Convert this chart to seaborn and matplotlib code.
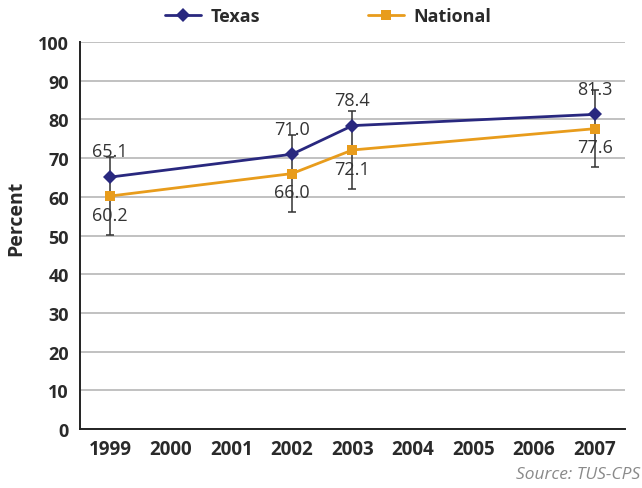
import matplotlib
matplotlib.use("Agg")
import matplotlib.pyplot as plt
import seaborn as sns
import pandas as pd
import numpy as np
from matplotlib.lines import Line2D

years = ["1999", "2000", "2001", "2002", "2003", "2004", "2005", "2006", "2007"]
data_years = ["1999", "2002", "2003", "2007"]
texas = [65.1, 71.0, 78.4, 81.3]
national = [60.2, 66.0, 72.1, 77.6]
national_err = [10, 10, 10, 10]

c_tx = "#29287f"
c_nat = "#e89c1c"
c_txt = "#2a2a2a"

sns.set_theme(style="white")
plt.rcParams['font.family'] = ['Open Sans', 'DejaVu Sans']

pos = [years.index(y) for y in data_years]
df = pd.DataFrame({
    "pos": pos * 2,
    "value": texas + national,
    "series": ["Texas"] * 4 + ["National"] * 4,
})

fig = plt.figure(figsize=(6.42, 4.89), dpi=100)
ax = fig.add_axes([0.1246, 0.1207, 0.9735 - 0.1246, 0.912 - 0.1207])

ax.yaxis.grid(True, color="#b0b0b0", linewidth=1.1)
ax.set_axisbelow(True)

ax.errorbar(pos, national, yerr=national_err, fmt="none", ecolor="#333333",
            elinewidth=1.1, capsize=2.6, capthick=1.1, zorder=2)

sns.lineplot(data=df, x="pos", y="value", hue="series", style="series",
             palette={"Texas": c_tx, "National": c_nat},
             markers={"Texas": "D", "National": "s"}, dashes=False,
             linewidth=2, markersize=7.5, markeredgewidth=0, ax=ax,
             legend=False, zorder=3)

for p, v in zip(pos, texas):
    ax.annotate(f"{v:.1f}", (p, v), xytext=(0, 12), textcoords="offset points",
                ha="center", va="bottom", fontsize=13, color="#333333")
for p, v in zip(pos, national):
    ax.annotate(f"{v:.1f}", (p, v), xytext=(0, -7), textcoords="offset points",
                ha="center", va="top", fontsize=13, color="#333333")

ax.set_xlim(-0.5, 8.5)
ax.set_ylim(0, 100)
ax.set_yticks(np.arange(0, 101, 10))
ax.set_yticklabels([str(t) for t in range(0, 101, 10)], fontweight="bold", fontsize=13)
ax.set_xticks(range(len(years)))
ax.set_xticklabels(years, fontweight="bold", fontsize=13.5)
ax.set_xticks(np.arange(-0.5, 9, 1), minor=True)
ax.tick_params(axis="x", which="major", length=0, pad=7, colors=c_txt)
ax.tick_params(axis="x", which="minor", length=5, width=1.2, color="#222222", direction="out")
ax.tick_params(axis="y", which="major", length=5, width=1.2, color="#222222", direction="out", pad=3, labelcolor=c_txt)
ax.set_xlabel("")
ax.set_ylabel("Percent", fontweight="bold", fontsize=14, color=c_txt)
ax.yaxis.set_label_coords(-0.098, 0.548)

for s in ["top", "right"]:
    ax.spines[s].set_visible(False)
for s in ["left", "bottom"]:
    ax.spines[s].set_color("#222222")
    ax.spines[s].set_linewidth(1.4)

handles = [
    Line2D([], [], color=c_tx, marker="D", markersize=7.5, linewidth=2, markeredgewidth=0),
    Line2D([], [], color=c_nat, marker="s", markersize=7.5, linewidth=2, markeredgewidth=0),
]
leg = fig.legend(handles, ["Texas", "National"], loc="center", bbox_to_anchor=(0.511, 0.965),
                 ncol=2, frameon=False, prop={"weight": "bold", "size": 13},
                 columnspacing=6.0, handlelength=2.0, handletextpad=0.5)
for t in leg.get_texts():
    t.set_color(c_txt)

fig.text(0.997, 0.012, "Source: TUS-CPS", ha="right", va="bottom",
         fontsize=12.5, style="italic", color="#8a8a8a")

fig.savefig("out.png", dpi=100)
